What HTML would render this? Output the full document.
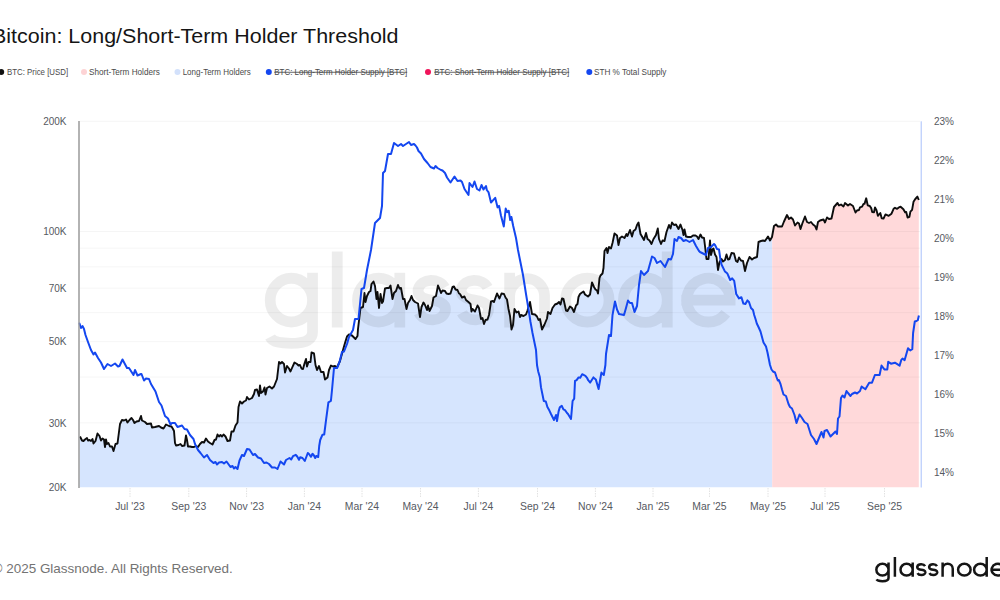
<!DOCTYPE html>
<html><head><meta charset="utf-8"><style>
html,body{margin:0;padding:0;background:#fff;width:1000px;height:600px;overflow:hidden}
svg{position:absolute;left:0;top:0;font-family:"Liberation Sans",sans-serif}
</style></head><body>
<svg width="1000" height="600" viewBox="0 0 1000 600">
<text x="-8.07" y="43" font-size="20" fill="#151515" textLength="406.60" lengthAdjust="spacingAndGlyphs">Bitcoin: Long/Short-Term Holder Threshold</text>
<g><circle cx="1.2" cy="72" r="3" fill="#111"/><text x="7.00" y="74.9" font-size="8.6" fill="#4a4a4a" textLength="61.08" lengthAdjust="spacingAndGlyphs">BTC: Price [USD]</text><circle cx="84" cy="72" r="3" fill="#fdd3d5"/><text x="89.00" y="74.9" font-size="8.6" fill="#4a4a4a" textLength="70.78" lengthAdjust="spacingAndGlyphs">Short-Term Holders</text><circle cx="177.5" cy="72" r="3" fill="#d3e1fb"/><text x="182.67" y="74.9" font-size="8.6" fill="#4a4a4a" textLength="68.10" lengthAdjust="spacingAndGlyphs">Long-Term Holders</text><circle cx="268.8" cy="72" r="3" fill="#1447f0"/><text x="274.25" y="74.9" font-size="8.6" fill="#4a4a4a" textLength="132.96" lengthAdjust="spacingAndGlyphs" text-decoration="line-through">BTC: Long-Term Holder Supply [BTC]</text><circle cx="428" cy="72" r="3" fill="#f0145a"/><text x="434.25" y="74.9" font-size="8.6" fill="#4a4a4a" textLength="134.95" lengthAdjust="spacingAndGlyphs" text-decoration="line-through">BTC: Short-Term Holder Supply [BTC]</text><circle cx="589.3" cy="72" r="3" fill="#1447f0"/><text x="594.00" y="74.9" font-size="8.6" fill="#4a4a4a" textLength="72.45" lengthAdjust="spacingAndGlyphs">STH % Total Supply</text></g>
<path d="M79.5,436.5 L80.0,436.5 L82.0,440.5 L83.5,441.0 L85.0,439.5 L87.0,438.0 L88.0,440.5 L89.5,440.0 L91.0,441.0 L92.5,439.0 L93.5,443.5 L95.5,441.0 L97.5,433.5 L99.5,436.0 L101.0,440.5 L102.5,438.5 L104.0,439.5 L105.0,447.0 L106.0,439.5 L107.0,444.0 L108.5,443.0 L110.0,446.5 L112.0,446.5 L113.5,451.0 L115.5,444.0 L117.5,443.5 L120.0,424.0 L122.0,420.0 L124.0,420.5 L126.0,419.5 L127.5,422.5 L129.5,420.0 L131.5,418.0 L133.0,420.0 L134.5,423.0 L136.5,421.5 L139.0,421.0 L141.0,416.0 L142.0,420.5 L145.0,422.0 L147.0,424.0 L151.0,423.5 L152.0,427.5 L155.0,427.0 L159.0,426.0 L161.0,427.5 L163.5,428.5 L166.0,424.5 L169.0,426.0 L171.5,426.5 L173.0,429.0 L174.0,431.0 L175.0,443.0 L176.0,445.5 L178.5,445.0 L180.5,444.0 L182.0,446.0 L184.5,445.5 L186.0,435.5 L187.0,440.0 L188.0,446.5 L190.0,446.5 L192.0,447.0 L194.0,447.0 L196.0,446.0 L198.0,447.0 L200.0,444.0 L202.0,442.0 L204.0,442.5 L206.0,438.5 L208.0,441.5 L210.0,443.0 L212.5,444.5 L214.5,440.0 L216.0,439.5 L217.5,434.5 L219.0,436.5 L220.5,435.0 L222.0,436.5 L223.5,434.5 L225.5,436.5 L227.5,441.0 L230.0,440.5 L231.5,431.5 L233.5,431.5 L235.5,425.5 L237.5,422.5 L238.5,407.0 L240.0,401.5 L242.0,403.5 L244.0,401.5 L246.0,400.5 L247.0,397.0 L249.0,399.5 L252.0,398.0 L254.0,394.0 L255.0,390.0 L257.0,389.5 L259.0,396.0 L260.0,385.5 L261.0,393.0 L263.0,391.5 L264.5,387.5 L265.5,394.5 L267.0,388.0 L269.5,386.5 L272.0,388.5 L274.0,386.5 L277.0,379.0 L279.0,362.0 L280.5,363.5 L282.0,362.0 L284.0,364.0 L285.0,372.5 L287.0,366.0 L289.0,368.5 L290.5,371.5 L292.0,368.0 L294.5,362.5 L297.0,364.0 L298.5,365.5 L300.0,365.0 L301.5,368.5 L303.0,369.0 L304.5,363.5 L306.0,359.0 L307.0,366.5 L308.5,362.0 L310.5,362.0 L311.5,352.5 L314.0,353.5 L315.5,365.0 L317.0,370.0 L319.0,366.0 L321.0,372.0 L323.5,372.0 L325.0,379.5 L327.5,377.5 L329.0,370.0 L331.0,365.5 L333.0,366.5 L335.0,366.0 L337.0,367.5 L340.0,361.0 L343.0,350.0 L345.0,343.0 L347.0,336.5 L349.0,334.5 L352.0,335.5 L355.5,339.0 L357.5,336.0 L358.0,329.0 L360.5,308.0 L363.0,307.0 L364.5,293.0 L365.5,302.0 L367.0,296.0 L369.0,292.0 L370.5,291.0 L371.5,284.0 L373.5,281.5 L375.0,286.0 L376.5,299.0 L377.5,292.0 L379.0,308.0 L380.5,294.0 L382.0,303.0 L383.0,301.5 L385.0,288.5 L387.0,288.0 L389.0,288.0 L390.5,285.5 L392.5,299.0 L394.0,293.0 L396.0,291.0 L398.0,285.0 L399.5,288.5 L401.0,288.0 L403.0,299.0 L404.5,299.0 L406.5,309.0 L408.0,303.0 L410.0,300.0 L411.5,296.0 L413.0,300.0 L415.0,302.0 L418.0,303.5 L420.0,317.0 L421.5,307.0 L423.5,302.5 L425.0,305.0 L427.0,310.0 L428.0,305.5 L429.5,311.0 L432.0,306.0 L433.5,297.5 L436.0,296.0 L438.0,285.5 L439.5,289.0 L441.0,293.0 L442.5,290.5 L445.0,291.0 L446.5,293.5 L448.5,294.0 L450.5,293.5 L452.5,287.0 L454.0,286.5 L455.5,289.5 L457.5,290.0 L459.0,293.5 L460.0,294.0 L462.0,297.5 L464.5,296.5 L466.0,300.0 L469.0,302.5 L470.5,304.0 L471.5,311.5 L472.5,309.0 L475.0,311.5 L477.5,305.5 L479.0,308.0 L481.0,319.0 L482.5,318.0 L484.0,324.0 L485.5,320.0 L487.5,319.5 L489.0,315.0 L491.0,301.5 L493.0,301.0 L494.0,302.0 L497.0,293.5 L499.5,298.5 L501.5,293.5 L504.0,294.0 L505.5,297.5 L507.0,299.5 L508.5,309.0 L510.0,316.0 L511.5,329.5 L513.0,325.0 L514.5,309.0 L516.5,312.5 L518.5,311.5 L520.0,317.0 L521.0,315.0 L523.5,316.0 L526.0,314.5 L527.5,310.5 L530.0,302.0 L532.0,314.0 L535.0,314.5 L537.0,316.5 L538.5,320.0 L540.0,319.0 L542.0,329.5 L544.5,324.5 L547.0,318.5 L548.0,312.0 L550.5,314.0 L552.5,308.0 L555.0,304.5 L557.5,303.5 L559.0,302.0 L560.5,304.5 L562.0,298.5 L563.5,299.0 L566.0,310.5 L567.5,311.0 L570.0,306.5 L572.0,308.0 L574.0,312.0 L576.0,305.5 L577.5,304.0 L578.5,297.0 L580.0,294.0 L582.0,292.5 L583.5,291.5 L585.0,294.5 L586.5,295.5 L588.0,296.5 L590.0,294.5 L592.0,282.5 L594.0,287.0 L595.5,289.5 L597.0,290.5 L598.0,293.5 L599.5,278.0 L600.5,275.5 L602.5,273.5 L603.5,268.0 L604.5,251.0 L606.5,248.0 L607.5,253.0 L609.0,247.0 L611.0,248.5 L612.5,243.0 L614.5,233.5 L617.0,235.5 L618.5,245.0 L620.0,238.0 L622.0,236.5 L624.5,238.0 L626.5,234.0 L627.5,236.0 L630.0,230.0 L632.0,236.5 L633.5,231.0 L635.5,229.5 L637.0,225.0 L638.5,222.5 L640.5,234.0 L642.0,236.5 L644.0,240.0 L646.0,233.0 L647.5,239.0 L649.5,240.5 L651.5,244.0 L653.5,239.0 L656.0,235.0 L657.8,228.5 L659.0,239.0 L661.0,244.0 L662.5,240.5 L664.5,241.0 L666.5,232.0 L669.0,225.0 L670.5,228.5 L672.0,222.5 L674.0,225.0 L676.0,224.5 L678.5,229.0 L680.5,224.5 L682.5,230.0 L683.5,235.0 L684.5,229.5 L686.0,236.5 L688.0,237.0 L691.0,237.0 L693.0,235.5 L695.5,235.5 L697.0,236.5 L698.5,239.0 L700.5,234.5 L702.0,237.5 L704.0,238.0 L705.0,246.0 L706.5,259.0 L708.5,259.0 L710.0,240.5 L711.0,255.0 L712.5,249.5 L713.5,248.5 L715.0,254.5 L716.5,257.0 L718.0,270.0 L719.5,262.0 L721.5,259.0 L723.0,261.5 L725.0,260.0 L726.5,254.5 L728.0,259.5 L729.5,259.0 L731.5,253.0 L734.0,253.5 L736.0,261.0 L737.5,262.0 L739.0,257.5 L741.0,260.5 L743.0,261.0 L745.0,271.0 L747.0,263.0 L749.5,257.0 L752.0,259.5 L754.0,258.0 L757.0,257.0 L758.5,242.0 L761.0,241.0 L763.0,240.5 L765.0,241.0 L768.0,236.5 L770.0,240.5 L772.0,237.0 L772.2,235.9 L772.2,487.3 L79.5,487.3 Z" fill="#d6e5fe"/>
<path d="M772.2,235.9 L774.0,226.0 L776.0,224.5 L778.0,226.5 L782.0,226.5 L784.0,221.5 L787.0,215.0 L789.0,219.0 L791.0,217.5 L793.0,219.5 L795.0,225.5 L797.5,222.5 L799.0,223.5 L800.5,229.0 L802.5,223.0 L805.0,216.5 L807.0,222.0 L809.0,223.0 L811.0,222.0 L813.0,224.5 L815.0,226.0 L816.5,229.5 L818.0,222.0 L820.0,220.5 L823.5,219.5 L825.0,222.5 L827.0,217.5 L829.0,219.0 L831.5,218.5 L834.0,207.0 L837.5,203.0 L839.0,205.5 L841.0,204.5 L843.5,206.5 L845.0,203.0 L848.0,205.5 L850.0,204.0 L853.0,206.0 L855.5,212.5 L857.0,210.5 L859.0,210.0 L860.0,207.4 L862.1,206.7 L863.5,203.9 L864.5,203.9 L866.2,198.3 L867.7,205.3 L869.8,206.0 L871.2,208.1 L872.2,212.0 L874.0,212.3 L875.0,207.4 L876.5,210.2 L877.9,215.8 L880.3,213.0 L881.7,218.3 L883.5,218.6 L885.5,214.4 L888.7,215.8 L891.5,213.7 L893.6,208.8 L895.0,207.8 L897.1,208.8 L898.9,207.4 L900.6,206.7 L903.4,209.2 L905.1,212.3 L906.2,211.9 L907.6,217.5 L909.4,216.8 L910.4,211.6 L912.1,209.8 L913.5,201.8 L915.3,199.0 L917.4,196.6 L918.8,200.0 L918.8,487.3 L772.2,487.3 Z" fill="#ffd9da"/>
<g stroke="#000" stroke-opacity="0.04" stroke-width="1"><line x1="80" y1="121.3" x2="920" y2="121.3" /><line x1="80" y1="231.5" x2="920" y2="231.5" /><line x1="80" y1="248.2" x2="920" y2="248.2" /><line x1="80" y1="266.9" x2="920" y2="266.9" /><line x1="80" y1="288.2" x2="920" y2="288.2" /><line x1="80" y1="312.7" x2="920" y2="312.7" /><line x1="80" y1="341.7" x2="920" y2="341.7" /><line x1="80" y1="377.1" x2="920" y2="377.1" /><line x1="80" y1="422.9" x2="920" y2="422.9" /></g>
<g opacity="0.075"><path d="M270.20,300.13 A21.16,21.86 0 1 0 312.53,300.13 A21.16,21.86 0 1 0 270.20,300.13 M312.53,272.87 V331.66 C312.53,343.28 296.68,343.28 291.36,343.28 C280.74,343.28 272.77,342.30 270.11,336.98 M337.24,251.59 V327.40 M357.48,300.13 A21.16,21.86 0 1 0 399.80,300.13 A21.16,21.86 0 1 0 357.48,300.13 M399.80,272.87 V327.40 M444.58,287.54 C439.65,277.72 421.23,277.72 418.19,289.18 C416.68,297.95 427.68,299.59 431.77,300.13 C435.85,300.68 446.86,302.32 445.34,311.09 C442.30,322.55 423.89,322.55 418.95,312.73 M487.59,287.54 C482.65,277.72 464.24,277.72 461.20,289.18 C459.68,297.95 470.69,299.59 474.77,300.13 C478.86,300.68 489.86,302.32 488.35,311.09 C485.31,322.55 466.89,322.55 461.96,312.73 M509.63,272.87 V327.40 M509.63,295.73 A17.46,17.46 0 0 1 544.54,295.73 V327.40 M565.64,300.13 A21.70,21.86 0 1 0 609.05,300.13 A21.70,21.86 0 1 0 565.64,300.13 M623.47,300.13 A21.89,21.86 0 1 0 667.24,300.13 A21.89,21.86 0 1 0 623.47,300.13 M667.24,251.59 V327.40 M681.31,300.13 H730.12 A21.70,21.86 0 1 0 725.78,313.25" fill="none" stroke="#000" stroke-width="10.8"/></g>
<path d="M80.0,436.5 L82.0,440.5 L83.5,441.0 L85.0,439.5 L87.0,438.0 L88.0,440.5 L89.5,440.0 L91.0,441.0 L92.5,439.0 L93.5,443.5 L95.5,441.0 L97.5,433.5 L99.5,436.0 L101.0,440.5 L102.5,438.5 L104.0,439.5 L105.0,447.0 L106.0,439.5 L107.0,444.0 L108.5,443.0 L110.0,446.5 L112.0,446.5 L113.5,451.0 L115.5,444.0 L117.5,443.5 L120.0,424.0 L122.0,420.0 L124.0,420.5 L126.0,419.5 L127.5,422.5 L129.5,420.0 L131.5,418.0 L133.0,420.0 L134.5,423.0 L136.5,421.5 L139.0,421.0 L141.0,416.0 L142.0,420.5 L145.0,422.0 L147.0,424.0 L151.0,423.5 L152.0,427.5 L155.0,427.0 L159.0,426.0 L161.0,427.5 L163.5,428.5 L166.0,424.5 L169.0,426.0 L171.5,426.5 L173.0,429.0 L174.0,431.0 L175.0,443.0 L176.0,445.5 L178.5,445.0 L180.5,444.0 L182.0,446.0 L184.5,445.5 L186.0,435.5 L187.0,440.0 L188.0,446.5 L190.0,446.5 L192.0,447.0 L194.0,447.0 L196.0,446.0 L198.0,447.0 L200.0,444.0 L202.0,442.0 L204.0,442.5 L206.0,438.5 L208.0,441.5 L210.0,443.0 L212.5,444.5 L214.5,440.0 L216.0,439.5 L217.5,434.5 L219.0,436.5 L220.5,435.0 L222.0,436.5 L223.5,434.5 L225.5,436.5 L227.5,441.0 L230.0,440.5 L231.5,431.5 L233.5,431.5 L235.5,425.5 L237.5,422.5 L238.5,407.0 L240.0,401.5 L242.0,403.5 L244.0,401.5 L246.0,400.5 L247.0,397.0 L249.0,399.5 L252.0,398.0 L254.0,394.0 L255.0,390.0 L257.0,389.5 L259.0,396.0 L260.0,385.5 L261.0,393.0 L263.0,391.5 L264.5,387.5 L265.5,394.5 L267.0,388.0 L269.5,386.5 L272.0,388.5 L274.0,386.5 L277.0,379.0 L279.0,362.0 L280.5,363.5 L282.0,362.0 L284.0,364.0 L285.0,372.5 L287.0,366.0 L289.0,368.5 L290.5,371.5 L292.0,368.0 L294.5,362.5 L297.0,364.0 L298.5,365.5 L300.0,365.0 L301.5,368.5 L303.0,369.0 L304.5,363.5 L306.0,359.0 L307.0,366.5 L308.5,362.0 L310.5,362.0 L311.5,352.5 L314.0,353.5 L315.5,365.0 L317.0,370.0 L319.0,366.0 L321.0,372.0 L323.5,372.0 L325.0,379.5 L327.5,377.5 L329.0,370.0 L331.0,365.5 L333.0,366.5 L335.0,366.0 L337.0,367.5 L340.0,361.0 L343.0,350.0 L345.0,343.0 L347.0,336.5 L349.0,334.5 L352.0,335.5 L355.5,339.0 L357.5,336.0 L358.0,329.0 L360.5,308.0 L363.0,307.0 L364.5,293.0 L365.5,302.0 L367.0,296.0 L369.0,292.0 L370.5,291.0 L371.5,284.0 L373.5,281.5 L375.0,286.0 L376.5,299.0 L377.5,292.0 L379.0,308.0 L380.5,294.0 L382.0,303.0 L383.0,301.5 L385.0,288.5 L387.0,288.0 L389.0,288.0 L390.5,285.5 L392.5,299.0 L394.0,293.0 L396.0,291.0 L398.0,285.0 L399.5,288.5 L401.0,288.0 L403.0,299.0 L404.5,299.0 L406.5,309.0 L408.0,303.0 L410.0,300.0 L411.5,296.0 L413.0,300.0 L415.0,302.0 L418.0,303.5 L420.0,317.0 L421.5,307.0 L423.5,302.5 L425.0,305.0 L427.0,310.0 L428.0,305.5 L429.5,311.0 L432.0,306.0 L433.5,297.5 L436.0,296.0 L438.0,285.5 L439.5,289.0 L441.0,293.0 L442.5,290.5 L445.0,291.0 L446.5,293.5 L448.5,294.0 L450.5,293.5 L452.5,287.0 L454.0,286.5 L455.5,289.5 L457.5,290.0 L459.0,293.5 L460.0,294.0 L462.0,297.5 L464.5,296.5 L466.0,300.0 L469.0,302.5 L470.5,304.0 L471.5,311.5 L472.5,309.0 L475.0,311.5 L477.5,305.5 L479.0,308.0 L481.0,319.0 L482.5,318.0 L484.0,324.0 L485.5,320.0 L487.5,319.5 L489.0,315.0 L491.0,301.5 L493.0,301.0 L494.0,302.0 L497.0,293.5 L499.5,298.5 L501.5,293.5 L504.0,294.0 L505.5,297.5 L507.0,299.5 L508.5,309.0 L510.0,316.0 L511.5,329.5 L513.0,325.0 L514.5,309.0 L516.5,312.5 L518.5,311.5 L520.0,317.0 L521.0,315.0 L523.5,316.0 L526.0,314.5 L527.5,310.5 L530.0,302.0 L532.0,314.0 L535.0,314.5 L537.0,316.5 L538.5,320.0 L540.0,319.0 L542.0,329.5 L544.5,324.5 L547.0,318.5 L548.0,312.0 L550.5,314.0 L552.5,308.0 L555.0,304.5 L557.5,303.5 L559.0,302.0 L560.5,304.5 L562.0,298.5 L563.5,299.0 L566.0,310.5 L567.5,311.0 L570.0,306.5 L572.0,308.0 L574.0,312.0 L576.0,305.5 L577.5,304.0 L578.5,297.0 L580.0,294.0 L582.0,292.5 L583.5,291.5 L585.0,294.5 L586.5,295.5 L588.0,296.5 L590.0,294.5 L592.0,282.5 L594.0,287.0 L595.5,289.5 L597.0,290.5 L598.0,293.5 L599.5,278.0 L600.5,275.5 L602.5,273.5 L603.5,268.0 L604.5,251.0 L606.5,248.0 L607.5,253.0 L609.0,247.0 L611.0,248.5 L612.5,243.0 L614.5,233.5 L617.0,235.5 L618.5,245.0 L620.0,238.0 L622.0,236.5 L624.5,238.0 L626.5,234.0 L627.5,236.0 L630.0,230.0 L632.0,236.5 L633.5,231.0 L635.5,229.5 L637.0,225.0 L638.5,222.5 L640.5,234.0 L642.0,236.5 L644.0,240.0 L646.0,233.0 L647.5,239.0 L649.5,240.5 L651.5,244.0 L653.5,239.0 L656.0,235.0 L657.8,228.5 L659.0,239.0 L661.0,244.0 L662.5,240.5 L664.5,241.0 L666.5,232.0 L669.0,225.0 L670.5,228.5 L672.0,222.5 L674.0,225.0 L676.0,224.5 L678.5,229.0 L680.5,224.5 L682.5,230.0 L683.5,235.0 L684.5,229.5 L686.0,236.5 L688.0,237.0 L691.0,237.0 L693.0,235.5 L695.5,235.5 L697.0,236.5 L698.5,239.0 L700.5,234.5 L702.0,237.5 L704.0,238.0 L705.0,246.0 L706.5,259.0 L708.5,259.0 L710.0,240.5 L711.0,255.0 L712.5,249.5 L713.5,248.5 L715.0,254.5 L716.5,257.0 L718.0,270.0 L719.5,262.0 L721.5,259.0 L723.0,261.5 L725.0,260.0 L726.5,254.5 L728.0,259.5 L729.5,259.0 L731.5,253.0 L734.0,253.5 L736.0,261.0 L737.5,262.0 L739.0,257.5 L741.0,260.5 L743.0,261.0 L745.0,271.0 L747.0,263.0 L749.5,257.0 L752.0,259.5 L754.0,258.0 L757.0,257.0 L758.5,242.0 L761.0,241.0 L763.0,240.5 L765.0,241.0 L768.0,236.5 L770.0,240.5 L772.0,237.0 L774.0,226.0 L776.0,224.5 L778.0,226.5 L782.0,226.5 L784.0,221.5 L787.0,215.0 L789.0,219.0 L791.0,217.5 L793.0,219.5 L795.0,225.5 L797.5,222.5 L799.0,223.5 L800.5,229.0 L802.5,223.0 L805.0,216.5 L807.0,222.0 L809.0,223.0 L811.0,222.0 L813.0,224.5 L815.0,226.0 L816.5,229.5 L818.0,222.0 L820.0,220.5 L823.5,219.5 L825.0,222.5 L827.0,217.5 L829.0,219.0 L831.5,218.5 L834.0,207.0 L837.5,203.0 L839.0,205.5 L841.0,204.5 L843.5,206.5 L845.0,203.0 L848.0,205.5 L850.0,204.0 L853.0,206.0 L855.5,212.5 L857.0,210.5 L859.0,210.0 L860.0,207.4 L862.1,206.7 L863.5,203.9 L864.5,203.9 L866.2,198.3 L867.7,205.3 L869.8,206.0 L871.2,208.1 L872.2,212.0 L874.0,212.3 L875.0,207.4 L876.5,210.2 L877.9,215.8 L880.3,213.0 L881.7,218.3 L883.5,218.6 L885.5,214.4 L888.7,215.8 L891.5,213.7 L893.6,208.8 L895.0,207.8 L897.1,208.8 L898.9,207.4 L900.6,206.7 L903.4,209.2 L905.1,212.3 L906.2,211.9 L907.6,217.5 L909.4,216.8 L910.4,211.6 L912.1,209.8 L913.5,201.8 L915.3,199.0 L917.4,196.6 L918.8,200.0" fill="none" stroke="#0d0d0d" stroke-width="1.9" stroke-linejoin="round"/>
<path d="M79.4,324.0 L79.5,323.5 L81.0,328.0 L82.5,326.0 L84.0,329.0 L85.5,335.0 L88.0,342.0 L91.0,350.0 L93.5,354.5 L95.0,352.5 L98.0,358.0 L101.0,362.5 L104.0,369.0 L107.5,364.0 L111.0,366.0 L115.0,363.5 L118.0,366.5 L119.5,366.0 L122.5,359.5 L127.0,368.0 L129.0,368.0 L133.5,375.0 L135.0,370.0 L137.5,375.5 L141.0,374.0 L141.5,374.0 L144.0,380.5 L146.0,378.5 L149.0,379.0 L151.0,384.0 L155.5,391.5 L159.0,402.0 L161.5,405.5 L165.0,416.0 L168.0,418.5 L170.5,424.5 L172.0,423.0 L175.0,423.0 L177.5,427.0 L182.0,425.5 L184.5,429.0 L187.0,429.5 L190.0,435.0 L193.5,439.0 L195.0,444.0 L198.0,450.0 L200.5,453.0 L204.0,457.5 L207.0,455.0 L210.0,460.0 L213.5,463.0 L215.5,462.0 L217.0,464.5 L219.0,462.5 L222.0,462.0 L224.0,463.5 L226.5,461.5 L230.5,467.0 L232.5,466.0 L234.0,468.5 L235.5,467.0 L237.5,469.0 L239.5,460.5 L242.0,455.0 L244.0,456.0 L247.0,449.0 L249.5,449.5 L253.0,455.0 L255.0,454.0 L258.0,457.5 L261.0,458.5 L264.0,463.0 L266.5,462.5 L269.0,464.0 L272.0,467.5 L275.0,467.5 L277.5,469.0 L280.5,461.5 L284.0,464.5 L286.0,460.0 L289.5,458.0 L291.2,459.5 L293.0,456.2 L295.8,454.8 L297.2,456.5 L299.0,459.8 L300.2,457.2 L302.5,458.0 L304.8,461.0 L306.5,456.5 L307.8,453.0 L309.0,454.0 L311.0,456.8 L312.5,453.8 L313.8,455.2 L315.2,458.0 L316.2,456.0 L318.2,457.0 L319.2,446.0 L320.2,440.0 L322.4,434.8 L324.2,434.5 L326.0,420.4 L328.4,402.4 L330.8,401.0 L331.0,400.0 L332.0,390.0 L334.0,368.0 L337.0,368.0 L339.5,362.0 L342.0,352.0 L344.0,351.5 L347.0,344.0 L349.0,337.0 L351.0,333.5 L353.0,330.0 L355.0,319.0 L358.5,319.0 L361.5,289.0 L364.0,288.0 L367.0,270.0 L371.0,250.0 L375.0,223.0 L378.0,220.0 L380.0,218.0 L382.0,206.0 L383.0,173.0 L385.0,171.0 L388.0,154.0 L391.0,154.0 L394.0,143.0 L398.0,146.0 L401.0,144.0 L403.0,146.0 L406.0,144.0 L409.0,142.0 L411.0,145.0 L414.0,144.0 L415.5,145.5 L417.0,147.5 L418.5,151.0 L421.0,153.5 L424.0,159.0 L427.5,163.0 L430.5,167.0 L434.0,168.5 L435.5,166.0 L437.5,168.0 L441.0,170.0 L442.5,170.5 L445.0,173.0 L447.0,177.5 L450.5,182.5 L454.5,176.5 L457.5,181.0 L460.5,180.5 L462.0,182.0 L464.5,189.0 L468.5,195.0 L469.5,183.0 L472.5,187.0 L474.5,181.5 L477.0,189.0 L479.5,190.5 L481.5,185.0 L483.5,189.5 L486.0,186.0 L486.8,190.0 L488.6,192.4 L491.0,202.6 L495.2,197.8 L497.6,207.4 L499.1,205.9 L500.9,215.2 L503.8,226.5 L505.7,208.6 L507.2,212.2 L508.7,210.7 L510.2,220.0 L511.4,217.0 L513.2,226.0 L516.0,238.0 L518.0,250.0 L520.0,260.0 L523.0,275.0 L526.0,294.0 L528.5,309.0 L530.5,322.0 L532.5,333.0 L536.0,350.0 L537.0,365.0 L538.2,371.4 L539.8,377.0 L541.0,387.4 L543.8,401.0 L545.8,401.4 L547.4,407.0 L549.4,410.6 L551.0,414.0 L554.0,420.0 L556.0,415.0 L557.0,421.0 L558.6,411.4 L559.8,407.4 L561.8,405.8 L563.4,409.4 L565.0,410.2 L567.0,413.0 L568.0,414.0 L571.0,419.0 L572.6,401.0 L574.2,398.6 L575.0,381.0 L576.6,380.2 L578.6,377.4 L580.2,377.8 L582.2,374.2 L585.4,375.8 L587.0,377.8 L588.2,380.2 L590.2,382.6 L593.4,377.4 L595.8,379.4 L598.6,389.0 L601.4,372.6 L603.8,375.0 L605.4,365.0 L606.0,354.0 L609.0,335.0 L611.0,336.0 L612.5,315.0 L615.0,301.5 L617.0,309.5 L619.0,314.0 L624.0,315.0 L626.0,308.0 L628.0,300.5 L630.0,303.0 L632.0,303.0 L634.5,312.0 L637.0,306.0 L639.0,285.0 L641.0,271.0 L644.0,275.0 L648.0,271.0 L652.0,256.5 L654.5,258.0 L657.0,263.0 L660.5,261.0 L665.0,267.0 L668.5,259.0 L671.0,259.5 L673.0,254.0 L674.5,239.0 L677.0,241.0 L678.5,237.0 L681.0,238.0 L683.5,241.0 L686.0,240.0 L689.5,242.0 L693.0,240.0 L696.0,246.0 L699.0,251.0 L700.0,252.0 L703.0,253.5 L706.0,255.0 L708.0,248.0 L711.0,247.0 L714.0,244.0 L715.0,245.0 L717.0,249.0 L719.0,249.5 L720.5,260.0 L721.5,264.5 L725.0,271.6 L727.4,273.6 L730.2,280.0 L732.2,278.4 L734.2,280.8 L736.2,294.0 L739.0,298.4 L741.4,297.2 L743.4,303.6 L745.4,304.0 L747.4,300.4 L749.0,302.0 L751.0,308.0 L753.0,310.0 L754.2,315.0 L755.5,319.0 L756.8,323.5 L758.5,327.0 L760.5,331.5 L762.8,340.0 L763.5,342.5 L766.0,346.5 L767.5,352.5 L768.8,359.0 L770.0,365.0 L771.5,369.5 L773.0,371.5 L775.0,372.5 L776.5,377.0 L777.8,380.5 L778.8,380.0 L780.5,384.0 L782.0,389.5 L783.5,394.5 L786.0,396.0 L788.5,404.0 L790.0,407.0 L792.0,408.5 L794.5,415.0 L796.5,423.0 L799.5,414.5 L802.0,418.0 L804.5,422.0 L807.5,424.0 L811.0,435.0 L814.0,439.0 L816.5,444.0 L819.0,438.0 L821.5,432.0 L823.5,437.5 L824.5,431.0 L827.0,430.0 L830.5,436.5 L833.0,434.0 L835.5,431.5 L837.0,434.0 L838.0,418.5 L839.5,416.5 L841.0,398.0 L842.5,395.5 L844.5,397.5 L846.5,391.0 L848.0,393.0 L850.5,396.0 L852.0,394.0 L855.0,392.5 L857.0,393.5 L860.0,391.0 L861.6,386.5 L865.4,389.3 L869.2,382.7 L872.0,382.7 L874.9,375.0 L879.6,375.0 L881.5,365.6 L884.4,369.4 L887.3,369.4 L888.2,361.8 L891.0,363.7 L894.9,362.7 L899.6,365.6 L901.2,360.2 L902.5,358.5 L904.6,360.2 L908.0,348.3 L910.2,350.4 L912.3,349.1 L913.1,333.0 L914.8,321.5 L916.5,321.0 L917.8,320.2 L918.9,315.5" fill="none" stroke="#1447f0" stroke-width="2" stroke-linejoin="round"/>
<line x1="79" y1="121" x2="79" y2="488" stroke="#9a9a9a" stroke-width="1.5"/>
<line x1="921.2" y1="121.3" x2="921.2" y2="487.5" stroke="#a8c0fb" stroke-width="1"/>
<g stroke="#e2e2e2" stroke-width="1" stroke-dasharray="1.5,1"><line x1="130" y1="488" x2="130" y2="497" /><line x1="188.8" y1="488" x2="188.8" y2="497" /><line x1="246.6" y1="488" x2="246.6" y2="497" /><line x1="304.4" y1="488" x2="304.4" y2="497" /><line x1="362" y1="488" x2="362" y2="497" /><line x1="420.5" y1="488" x2="420.5" y2="497" /><line x1="478.4" y1="488" x2="478.4" y2="497" /><line x1="537.5" y1="488" x2="537.5" y2="497" /><line x1="595.4" y1="488" x2="595.4" y2="497" /><line x1="653" y1="488" x2="653" y2="497" /><line x1="709.5" y1="488" x2="709.5" y2="497" /><line x1="768" y1="488" x2="768" y2="497" /><line x1="825" y1="488" x2="825" y2="497" /><line x1="884.5" y1="488" x2="884.5" y2="497" /></g>
<g font-size="10" fill="#56595f" text-anchor="end"><text x="66.5" y="124.9">200K</text><text x="66.5" y="235.1">100K</text><text x="66.5" y="291.8">70K</text><text x="66.5" y="345.3">50K</text><text x="66.5" y="426.5">30K</text><text x="66.5" y="490.9">20K</text></g>
<g font-size="10" fill="#56595f"><text x="934" y="125.1">23%</text><text x="934" y="164.0">22%</text><text x="934" y="203.0">21%</text><text x="934" y="241.9">20%</text><text x="934" y="280.9">19%</text><text x="934" y="319.8">18%</text><text x="934" y="358.8">17%</text><text x="934" y="397.7">16%</text><text x="934" y="436.7">15%</text><text x="934" y="475.6">14%</text></g>
<g font-size="10.4" fill="#56595f" text-anchor="middle"><text x="130" y="509.8">Jul '23</text><text x="188.8" y="509.8">Sep '23</text><text x="246.6" y="509.8">Nov '23</text><text x="304.4" y="509.8">Jan '24</text><text x="362" y="509.8">Mar '24</text><text x="420.5" y="509.8">May '24</text><text x="478.4" y="509.8">Jul '24</text><text x="537.5" y="509.8">Sep '24</text><text x="595.4" y="509.8">Nov '24</text><text x="653" y="509.8">Jan '25</text><text x="709.5" y="509.8">Mar '25</text><text x="768" y="509.8">May '25</text><text x="825" y="509.8">Jul '25</text><text x="884.5" y="509.8">Sep '25</text></g>
<text x="-7.41" y="573" font-size="13" fill="#737373" textLength="240.23" lengthAdjust="spacingAndGlyphs">© 2025 Glassnode. All Rights Reserved.</text>
<path d="M876.35,569.68 A6.10,5.92 0 1 0 888.55,569.68 A6.10,5.92 0 1 0 876.35,569.68 M888.55,562.50 V577.97 C888.55,581.20 883.92,581.20 882.45,581.20 C879.51,581.20 877.31,580.77 876.57,579.37 M894.90,556.90 V576.85 M900.50,569.68 A6.10,5.92 0 1 0 912.70,569.68 A6.10,5.92 0 1 0 900.50,569.68 M912.70,562.50 V576.85 M925.09,566.19 C923.73,563.61 918.14,563.61 917.30,566.62 C916.88,569.10 919.93,569.53 921.30,569.68 C922.68,569.82 925.72,570.25 925.30,572.73 C924.46,575.74 918.88,575.74 917.51,573.16 M936.99,566.19 C935.62,563.61 930.04,563.61 929.20,566.62 C928.78,569.10 931.83,569.53 933.20,569.68 C934.58,569.82 937.62,570.25 937.20,572.73 C936.36,575.74 930.78,575.74 929.41,573.16 M942.60,562.50 V576.85 M942.60,568.83 A5.07,5.07 0 0 1 952.75,568.83 V576.85 M958.10,569.68 A6.25,5.92 0 1 0 970.60,569.68 A6.25,5.92 0 1 0 958.10,569.68 M974.10,569.68 A6.30,5.92 0 1 0 986.70,569.68 A6.30,5.92 0 1 0 974.10,569.68 M986.70,556.90 V576.85 M990.35,569.68 H1004.10 A6.25,5.92 0 1 0 1002.85,573.23" fill="none" stroke="#161616" stroke-width="2.5"/>
</svg>
</body></html>
